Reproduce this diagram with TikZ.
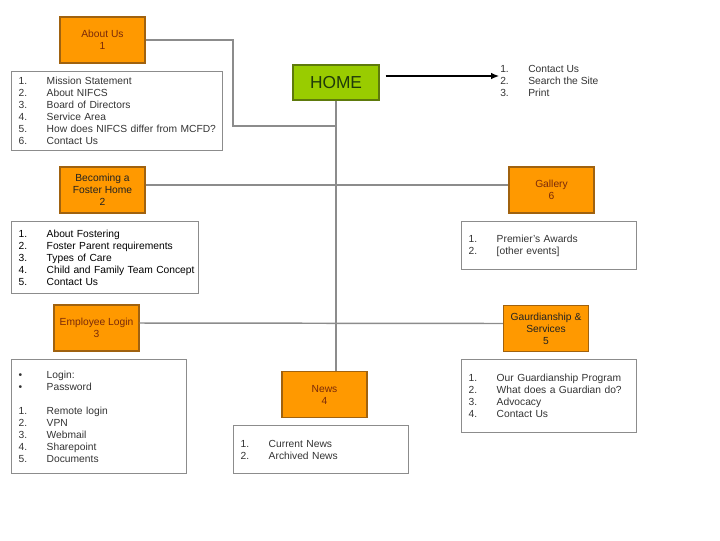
\documentclass[tikz,border=0pt]{standalone}
\usepackage{fontspec}
\setmainfont{Liberation Sans}
\usepackage{xcolor}
\usepackage{tikz}
\usetikzlibrary{arrows.meta,positioning}
\definecolor{tangerine}{HTML}{FF9900}
\definecolor{rust}{HTML}{A0620F}
\definecolor{lime}{HTML}{99CC00}
\definecolor{olive}{HTML}{5E7A0C}
\definecolor{forest}{HTML}{1F3A0A}
\definecolor{maroon}{HTML}{7A2A0A}
\definecolor{bk90}{HTML}{222222}
\definecolor{bk80}{HTML}{333333}
\definecolor{bk50}{HTML}{8C8C8C}
\newcommand{\listfont}{\fontsize{7.7}{9}\selectfont}
\newcommand{\itm}[2]{\makebox[21pt][l]{#1}\mbox{#2}}
\tikzset{
  sectionbox/.style={
    rectangle, draw=rust, fill=tangerine, line width=0.8pt,
    minimum width=63.75pt, minimum height=34.5pt,
    font=\listfont, text=#1, align=center,
    inner sep=2pt
  },
  sectionbox/.default=maroon,
  homebox/.style={
    rectangle, draw=olive, fill=lime, line width=0.8pt,
    minimum width=64.5pt, minimum height=26.25pt,
    font=\fontsize{13}{15}\selectfont, text=forest, align=center
  },
  listbox/.style 2 args={
    rectangle, draw=bk50, line width=1.1pt, anchor=north west,
    text width=#1, minimum height=#2,
    inner xsep=5.25pt, inner ysep=2pt,
    font=\listfont, text=bk80, align=left
  },
  link/.style={draw=bk50, line width=1.1pt},
  dataarrow/.style={-{Latex[length=6pt,width=5pt]}, line width=0.9pt, color=black},
}

\begin{document}
\begin{tikzpicture}[x=0.75pt, y=-0.75pt]
  \useasboundingbox (0,0) rectangle (720,540);

  % home and its links
  \node[homebox] (home) at (336,82.5) {HOME};
  \node[anchor=north west, font=\listfont, text=bk80, align=left,
        inner xsep=5.25pt, inner ysep=0pt] (links) at (493,65.5)
    {\itm{1.}{Contact Us}\\ \itm{2.}{Search the Site}\\ \itm{3.}{Print}};

  % sections
  \node[sectionbox] (about) at (102.5,40) {About Us\\1};
  \node[sectionbox=bk90] (become) at (102.5,190) {Becoming a\\Foster Home\\2};
  \node[sectionbox] (gallery) at (551.5,190) {Gallery\\6};
  \node[sectionbox] (employee) at (96.5,328) {Employee Login\\3};
  \node[sectionbox=bk90] (guardian) at (546,328.5) {Gaurdianship \&\\Services\\5};
  \node[sectionbox] (news) at (324.5,394.5) {News\\4};

  % page lists
  \node[listbox={147.75pt}{59.25pt}] (aboutlist) at (11,71)
    {\itm{1.}{Mission Statement}\\ \itm{2.}{About NIFCS}\\
     \itm{3.}{Board of Directors}\\ \itm{4.}{Service Area}\\
     \itm{5.}{How does NIFCS differ from MCFD?}\\ \itm{6.}{Contact Us}};
  \node[listbox={129.75pt}{54pt}, text=black] (becomelist) at (11,221)
    {\itm{1.}{About Fostering}\\ \itm{2.}{Foster Parent requirements}\\
     \itm{3.}{Types of Care}\\ \itm{4.}{Child and Family Team Concept}\\
     \itm{5.}{Contact Us}};
  \node[listbox={120.75pt}{36pt}] (gallerylist) at (461,221)
    {\itm{1.}{Premier's Awards}\\ \itm{2.}{[other events]}};
  \node[listbox={120.75pt}{85.5pt}] (employeelist) at (11,359)
    {\itm{•}{Login:}\\ \itm{•}{Password}\\[9pt]
     \itm{1.}{Remote login}\\ \itm{2.}{VPN}\\ \itm{3.}{Webmail}\\
     \itm{4.}{Sharepoint}\\ \itm{5.}{Documents}};
  \node[listbox={120.75pt}{54.75pt}] (guardianlist) at (461,359)
    {\itm{1.}{Our Guardianship Program}\\ \itm{2.}{What does a Guardian do?}\\
     \itm{3.}{Advocacy}\\ \itm{4.}{Contact Us}};
  \node[listbox={120.75pt}{36pt}] (newslist) at (233,425)
    {\itm{1.}{Current News}\\ \itm{2.}{Archived News}};

  % connectors
  \coordinate (bend) at (233,126);
  \draw[link] (home.south) -- (home.south |- news.north);
  \draw[link] (about.east) -| (bend) -- (bend -| home.south);
  \draw[link] ([yshift=3.75pt]become.east) -- ([yshift=3.75pt]gallery.west);
  \draw[link] ([yshift=3.75pt]employee.east) -- ([yshift=3.75pt]guardian.west);
  \draw[dataarrow] ([shift={(6,-6.5)}]home.east) -- ([shift={(6,-6.5)}]home.east -| links.west);
\end{tikzpicture}
\end{document}
